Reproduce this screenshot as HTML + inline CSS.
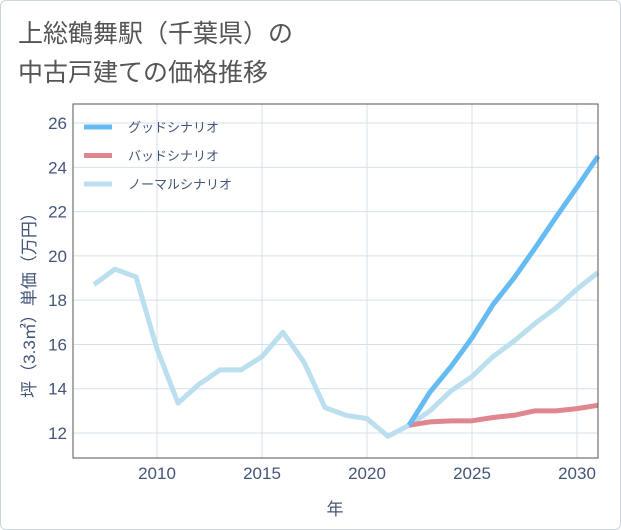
<!DOCTYPE html>
<html><head><meta charset="utf-8"><style>
body{margin:0;background:#fff;}
#wrap{position:relative;width:619px;height:528px;border:1px solid #ccd6e0;border-radius:6px;background:#fff;overflow:hidden;}
text{font-family:"Liberation Sans","Noto Sans CJK JP",sans-serif;}
</style></head><body>
<div id="wrap">
<svg id="chart" width="621" height="530">
<text x="17" y="41" font-size="25" fill="#555">上総鶴舞駅（千葉県）の</text>
<text x="17" y="80" font-size="25" fill="#555">中古戸建ての価格推移</text>
<g id="grid"></g><g id="series"></g><g id="axes"></g>
</svg>
</div>
<script>
const years=[2007,2008,2009,2010,2011,2012,2013,2014,2015,2016,2017,2018,2019,2020,2021,2022,2023,2024,2025,2026,2027,2028,2029,2030,2031];
const normal=[18.7,19.4,19.05,15.8,13.35,14.2,14.85,14.85,15.45,16.55,15.2,13.15,12.8,12.65,11.85,12.35,13.0,13.9,14.55,15.45,16.15,16.95,17.65,18.5,19.25];
const goodYears=[2022,2023,2024,2025,2026,2027,2028,2029,2030,2031];
const good=[12.35,13.85,15.0,16.3,17.8,19.0,20.35,21.75,23.1,24.5];
const bad=[12.35,12.5,12.55,12.55,12.7,12.8,13.0,13.0,13.1,13.25];
const xTicks=[2010,2015,2020,2025,2030];
const yTicks=[12,14,16,18,20,22,24,26];
const NS="http://www.w3.org/2000/svg";
const L=72,R=597,T=103,B=457;
const x=v=>156+(v-2010)*21;
const y=v=>432-(v-12)*22.14;
function mk(tag,attrs,parent){const e=document.createElementNS(NS,tag);for(const k in attrs)e.setAttribute(k,attrs[k]);parent.appendChild(e);return e;}
const grid=document.getElementById('grid'),ser=document.getElementById('series'),ax=document.getElementById('axes');
xTicks.forEach(t=>{const l=mk('line',{x1:x(t),x2:x(t),y1:T,y2:B,stroke:'#d5e0ea'},grid);


const tx=mk('text',{x:x(t),y:478,'text-anchor':'middle','font-size':17,fill:'#44557a'},ax);tx.textContent=t;

});
yTicks.forEach(t=>{const l=mk('line',{x1:L,x2:R,y1:y(t),y2:y(t),stroke:'#d5e0ea'},grid);


const tx=mk('text',{x:66,y:y(t)+6,'text-anchor':'end','font-size':17,fill:'#44557a'},ax);tx.textContent=t;

});
const fr=mk('rect',{x:L,y:T,width:R-L,height:B-T,fill:'none',stroke:'#555','stroke-width':1},ax);


function line(xs,vs,color,name){const p=mk('polyline',{points:xs.map((yr,i)=>x(yr)+','+y(vs[i])).join(' '),fill:'none',stroke:color,'stroke-width':5,'stroke-linejoin':'round'},ser);

}
line(years,normal,'#bcdff0','normal-scenario-line');
line(goodYears,bad,'#e0868e','bad-scenario-line');
line(goodYears,good,'#66bbf2','good-scenario-line');
const xt=mk('text',{x:334,y:514,'text-anchor':'middle','font-size':17,fill:'#44557a'},ax);xt.textContent='年';


const yt=mk('text',{x:0,y:0,'text-anchor':'middle','font-size':17,fill:'#44557a',transform:'translate(34,300) rotate(-90)'},ax);yt.textContent='坪（3.3㎡）単価（万円）';


const leg=[['グッドシナリオ','#66bbf2'],['バッドシナリオ','#e0868e'],['ノーマルシナリオ','#bcdff0']];
leg.forEach((d,i)=>{const yy=126+i*28.5;
const s=mk('line',{x1:83,x2:111,y1:yy,y2:yy,stroke:d[1],'stroke-width':5},ax);


const t=mk('text',{x:127,y:yy+5,'font-size':13,fill:'#44557a'},ax);t.textContent=d[0];

});
</script>
</body></html>
